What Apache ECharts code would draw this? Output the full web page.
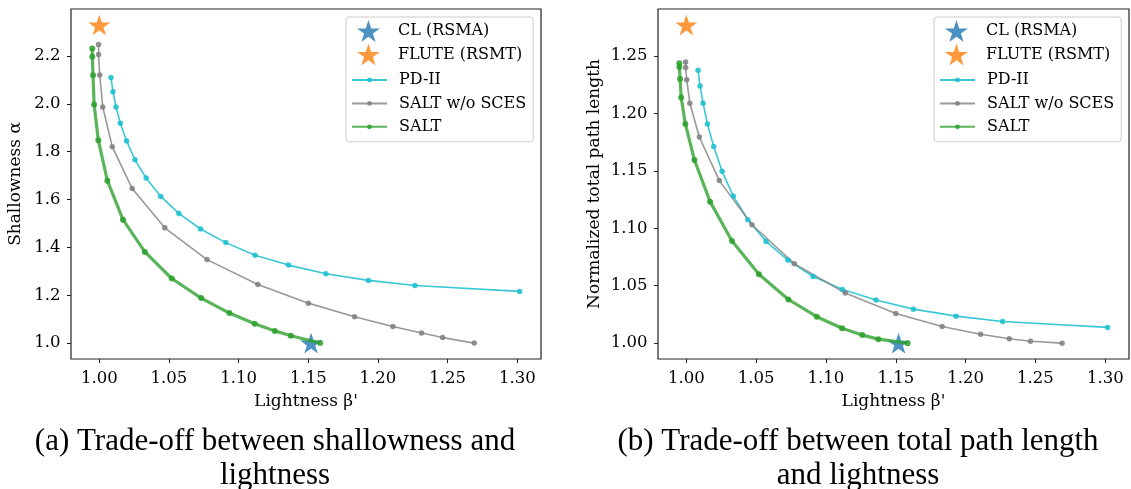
<!DOCTYPE html>
<html>
<head>
<meta charset="utf-8">
<script src="https://cdn.jsdelivr.net/npm/echarts@6/dist/echarts.min.js"></script>
<style>
html,body{margin:0;padding:0;background:#fff;}
#chart{width:1131px;height:489px;}
</style>
</head>
<body>
<div id="chart"></div>
<script>
// ---------- data ----------
const xTicks = [1.00, 1.05, 1.10, 1.15, 1.20, 1.25, 1.30];
const yTicksA = [1.0, 1.2, 1.4, 1.6, 1.8, 2.0, 2.2];
const yTicksB = [1.00, 1.05, 1.10, 1.15, 1.20, 1.25];

const seriesNames = ['CL (RSMA)', 'FLUTE (RSMT)', 'PD-II', 'SALT w/o SCES', 'SALT'];

const clLight = [1.152];
const clShallow = [1.0];
const clLength = [1.0];

const fluteLight = [1.0];
const fluteShallow = [2.33];
const fluteLength = [1.277];

const pdLight = [1.0084, 1.0098, 1.0120, 1.0151, 1.0196, 1.0256, 1.0336, 1.0441, 1.0571, 1.0727, 1.0908, 1.1118, 1.1358, 1.1626, 1.1932, 1.2265, 1.3017];
const pdShallow = [2.110, 2.051, 1.987, 1.919, 1.845, 1.766, 1.690, 1.613, 1.542, 1.477, 1.420, 1.367, 1.326, 1.290, 1.262, 1.241, 1.216];
const pdLength = [1.2375, 1.2239, 1.2088, 1.1908, 1.1713, 1.1496, 1.1280, 1.1075, 1.0886, 1.0723, 1.0580, 1.0468, 1.0375, 1.0296, 1.0235, 1.0189, 1.0137];

const noScesLight = [0.9995, 0.9995, 1.0003, 1.0025, 1.0093, 1.0236, 1.0470, 1.0773, 1.1138, 1.1500, 1.1832, 1.2107, 1.2313, 1.2464, 1.2691];
const noScesShallow = [2.248, 2.206, 2.121, 1.987, 1.821, 1.646, 1.482, 1.349, 1.245, 1.167, 1.110, 1.0695, 1.042, 1.023, 1.000];
const noScesLength = [1.2448, 1.2400, 1.2294, 1.2088, 1.1795, 1.1415, 1.1031, 1.0692, 1.0436, 1.0259, 1.0145, 1.0078, 1.0038, 1.0017, 1.0000];

const saltLight = [0.9950, 0.9950, 0.9955, 0.9963, 0.9993, 1.0058, 1.0170, 1.0327, 1.0520, 1.0731, 1.0934, 1.1115, 1.1260, 1.1375, 1.1585];
const saltShallow = [2.231, 2.197, 2.120, 1.997, 1.848, 1.679, 1.516, 1.381, 1.270, 1.188, 1.1255, 1.081, 1.051, 1.0305, 1.000];
const saltLength = [1.2436, 1.2404, 1.2300, 1.2138, 1.1908, 1.1594, 1.1232, 1.0889, 1.0600, 1.0380, 1.0230, 1.0130, 1.0070, 1.0035, 1.0000];

const xLabel = "Lightness β'";
const yLabelA = 'Shallowness α';
const yLabelB = 'Normalized total path length';
const captionA = ['(a) Trade-off between shallowness and', 'lightness'];
const captionB = ['(b) Trade-off between total path length', 'and lightness'];

// ---------- helpers ----------
const zip = (xs, ys) => xs.map((x, i) => [x, ys[i]]);
const STAR = 'path://M0,-100 L22.45,-30.9 L95.1,-30.9 L36.33,11.8 L58.8,80.9 L0,38.2 L-58.8,80.9 L-36.33,11.8 L-95.1,-30.9 L-22.45,-30.9 Z';
const FONT = 'DejaVu Serif';
const INK = '#000';
const SPINE = '#222';

function makeSeries(gi, ysCL, ysFL, ysPD, ysNS, ysSA) {
  const ax = { xAxisIndex: gi, yAxisIndex: gi };
  return [
    Object.assign({
      name: seriesNames[0], type: 'scatter', data: zip(clLight, ysCL),
      symbol: STAR, symbolSize: 22, symbolKeepAspect: true,
      itemStyle: { color: '#1f77b4', opacity: 0.8 }, silent: true
    }, ax),
    Object.assign({
      name: seriesNames[1], type: 'scatter', data: zip(fluteLight, ysFL),
      symbol: STAR, symbolSize: 22, symbolKeepAspect: true,
      itemStyle: { color: '#ff7f0e', opacity: 0.8 }, silent: true
    }, ax),
    Object.assign({
      name: seriesNames[2], type: 'line', data: zip(pdLight, ysPD),
      symbol: 'circle', symbolSize: 5.5, showSymbol: true,
      lineStyle: { color: '#17becf', width: 1.6, opacity: 0.85 },
      itemStyle: { color: '#17becf', opacity: 0.85 }, silent: true
    }, ax),
    Object.assign({
      name: seriesNames[3], type: 'line', data: zip(noScesLight, ysNS),
      symbol: 'circle', symbolSize: 5.5, showSymbol: true,
      lineStyle: { color: '#7f7f7f', width: 1.6, opacity: 0.8 },
      itemStyle: { color: '#7f7f7f', opacity: 0.85 }, silent: true
    }, ax),
    Object.assign({
      name: seriesNames[4], type: 'line', data: zip(saltLight, ysSA),
      symbol: 'circle', symbolSize: 6, showSymbol: true,
      lineStyle: { color: '#2ca02c', width: 3.2, opacity: 0.78 },
      itemStyle: { color: '#2ca02c', opacity: 0.85 }, silent: true
    }, ax)
  ];
}

function makeXAxis(gi) {
  return {
    gridIndex: gi, type: 'value', min: 0.9797, max: 1.3170,
    name: xLabel, nameLocation: 'middle', nameGap: 34,
    nameTextStyle: { fontFamily: FONT, fontSize: 17, color: INK },
    axisLine: { show: false },
    axisTick: { show: true, customValues: xTicks, length: 4, lineStyle: { color: SPINE, width: 1 } },
    axisLabel: { customValues: xTicks, margin: 11, fontFamily: FONT, fontSize: 16.5, color: INK,
      formatter: v => Number(v).toFixed(2) },
    splitLine: { show: false }
  };
}

function makeYAxis(gi, ticks, min, max, name, gap, dec) {
  return {
    gridIndex: gi, type: 'value', min: min, max: max,
    name: name, nameLocation: 'middle', nameGap: gap,
    nameTextStyle: { fontFamily: FONT, fontSize: 17, color: INK },
    axisLine: { show: false },
    axisTick: { show: true, customValues: ticks, length: 4, lineStyle: { color: SPINE, width: 1 } },
    axisLabel: { customValues: ticks, margin: 10.5, fontFamily: FONT, fontSize: 16.5, color: INK,
      formatter: v => Number(v).toFixed(dec) },
    splitLine: { show: false }
  };
}

function makeLegends(left) {
  const txt = { fontFamily: FONT, fontSize: 16, color: INK, lineHeight: 16, padding: [0, 0, 0, 7] };
  return [
    {
      // frame + line entries
      orient: 'vertical', left: left, top: 17,
      padding: [55, 7, 7, 5], itemWidth: 35, itemHeight: 6, itemGap: 7.4,
      backgroundColor: 'rgba(255,255,255,0.8)', borderColor: '#cccccc', borderWidth: 1, borderRadius: 3,
      data: seriesNames.slice(2), selectedMode: false, textStyle: txt, z: 5
    },
    {
      // star entries
      orient: 'vertical', left: left, top: 17,
      padding: [3, 7, 0, 10.9], itemWidth: 35, itemHeight: 22, itemGap: 1.5,
      data: seriesNames.slice(0, 2), selectedMode: false, textStyle: txt, z: 6
    }
  ];
}

function caption(cx, lines) {
  const font = '31px "Liberation Serif", serif';
  return lines.map((t, i) => ({
    type: 'text', x: cx, y: 442 + i * 34, silent: true,
    style: { text: t, font: font, fill: INK, textAlign: 'center', textVerticalAlign: 'middle', verticalAlign: 'middle' }
  }));
}

const option = {
  animation: false,
  backgroundColor: '#fff',
  grid: [
    { left: 71, top: 9, width: 470, height: 350, show: true, borderColor: SPINE, borderWidth: 1.2, backgroundColor: 'transparent' },
    { left: 658, top: 9, width: 471, height: 350, show: true, borderColor: SPINE, borderWidth: 1.2, backgroundColor: 'transparent' }
  ],
  xAxis: [makeXAxis(0), makeXAxis(1)],
  yAxis: [
    makeYAxis(0, yTicksA, 0.9335, 2.3965, yLabelA, 47, 1),
    makeYAxis(1, yTicksB, 0.9862, 1.2909, yLabelB, 55, 2)
  ],
  legend: makeLegends(346).concat(makeLegends(934)),
  series: makeSeries(0, clShallow, fluteShallow, pdShallow, noScesShallow, saltShallow)
    .concat(makeSeries(1, clLength, fluteLength, pdLength, noScesLength, saltLength)),
  graphic: caption(275, captionA).concat(caption(858, captionB))
};

const chart = echarts.init(document.getElementById('chart'), null, { renderer: 'canvas' });
chart.setOption(option);
</script>
</body>
</html>
